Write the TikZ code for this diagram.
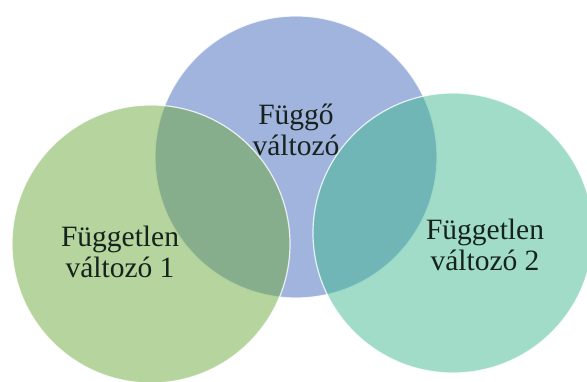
\documentclass[tikz,border=0pt]{standalone}
\usepackage{fontspec}
\setmainfont{Liberation Serif}
\usetikzlibrary{calc}

\definecolor{fuggokek}{RGB}{160,180,222}
\definecolor{zold}{RGB}{109,169,61}
\definecolor{turkiz}{RGB}{65,185,145}
\definecolor{betu}{RGB}{22,34,28}

\begin{document}
\begin{tikzpicture}[x=1pt, y=1pt,
  halmaz/.style={draw=white, line width=1.2pt, draw opacity=.8},
  felirat/.style={text=betu, align=center, font=\fontsize{29.5}{31.5}\selectfont}]

  \useasboundingbox (0,0) rectangle (587,381);
  \clip (0,0) rectangle (587,381);

  \coordinate (fuggo) at (296,224);
  \coordinate (ftlen1) at (151,137);
  \coordinate (ftlen2) at (453,148);

  \filldraw[halmaz, fill=fuggokek] (fuggo) circle (141);
  \filldraw[halmaz, fill=zold, fill opacity=.5] (ftlen1) circle (139);
  \filldraw[halmaz, fill=turkiz, fill opacity=.5] (ftlen2) circle (140);

  \node[felirat] (fuggol) at ($(fuggo) + (0,27)$) {Függő\\változó};
  \node[felirat] (ftlen1l) at ($(ftlen1) + (-31,-8)$) {Független\\változó 1};
  \node[felirat] (ftlen2l) at ($(ftlen2) + (32,-12)$) {Független\\változó 2};

\end{tikzpicture}
\end{document}
